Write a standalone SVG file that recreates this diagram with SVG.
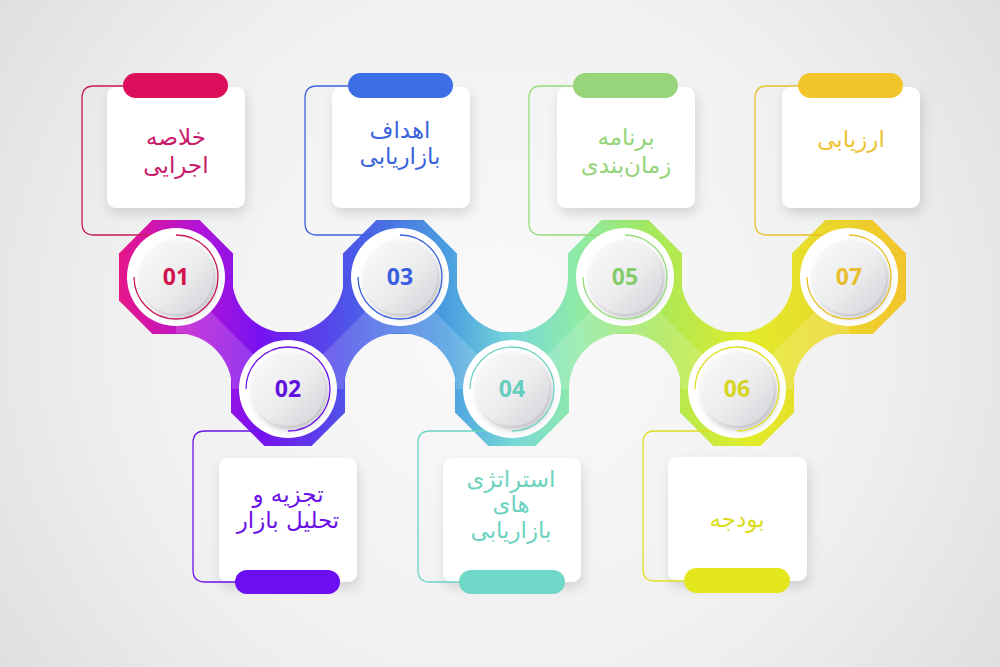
<svg xmlns="http://www.w3.org/2000/svg" width="1000" height="667" viewBox="0 0 1000 667">
<defs>
<radialGradient id="bg" cx="500" cy="330" r="620" gradientUnits="userSpaceOnUse">
<stop offset="0" stop-color="#fafafa"/><stop offset="0.6" stop-color="#f0f0f1"/><stop offset="1" stop-color="#dedee0"/>
</radialGradient>
<linearGradient id="band" x1="119" y1="0" x2="906" y2="0" gradientUnits="userSpaceOnUse">
<stop offset="0" stop-color="#e6168a"/>
<stop offset="0.1" stop-color="#b414d8"/>
<stop offset="0.18" stop-color="#7612f0"/>
<stop offset="0.3" stop-color="#4a5ae8"/>
<stop offset="0.42" stop-color="#4aa0e0"/>
<stop offset="0.5" stop-color="#78d8d8"/>
<stop offset="0.58" stop-color="#8eeaa8"/>
<stop offset="0.68" stop-color="#a6e85a"/>
<stop offset="0.8" stop-color="#e2ec2a"/>
<stop offset="1" stop-color="#f2c42c"/>
</linearGradient>
<linearGradient id="btn" x1="0" y1="0" x2="1" y2="1">
<stop offset="0" stop-color="#fbfbfc"/><stop offset="0.55" stop-color="#ececee"/><stop offset="1" stop-color="#d2d2d8"/>
</linearGradient>
<filter id="sh" x="-30%" y="-30%" width="160%" height="160%">
<feDropShadow dx="2" dy="6" stdDeviation="6" flood-color="#000" flood-opacity="0.13"/>
</filter>
<filter id="bsh" x="-40%" y="-40%" width="180%" height="180%">
<feDropShadow dx="3" dy="4" stdDeviation="3" flood-color="#4a4a5a" flood-opacity="0.35"/>
</filter>
<mask id="cut" maskUnits="userSpaceOnUse" x="0" y="0" width="1000" height="667">
<rect x="0" y="0" width="1000" height="667" fill="#fff"/>
<g fill="#000">
<circle cx="176" cy="389" r="56"/><circle cx="288" cy="277" r="56"/><circle cx="400" cy="389" r="56"/>
<circle cx="512" cy="277" r="56"/><circle cx="625" cy="389" r="56"/><circle cx="737" cy="277" r="56"/>
<circle cx="849" cy="389" r="56"/>
</g>
</mask>
<circle id="ring" r="49" fill="#fff"/>
<circle id="button" r="37" fill="url(#btn)" filter="url(#bsh)"/>
</defs>
<style>
.box{fill:#fff;filter:url(#sh)}
.lbl{font-family:"DejaVu Sans",sans-serif;font-size:23px;text-anchor:middle}
.num{font-family:"Open Sans","Liberation Sans",sans-serif;font-weight:700;font-size:23px;text-anchor:middle}
.con{fill:none;stroke-width:1.3}
.fold{fill:#fff;fill-opacity:0.16}
</style>
<rect width="1000" height="667" fill="url(#bg)"/>

<g id="band-shape" fill="url(#band)">
<rect x="176" y="277" width="673" height="112" mask="url(#cut)"/>
<polygon points="152.4,220 199.6,220 233,253.4 233,300.6 199.6,334 152.4,334 119,300.6 119,253.4"/>
<polygon points="264.4,332 311.6,332 345,365.4 345,412.6 311.6,446 264.4,446 231,412.6 231,365.4"/>
<polygon points="376.4,220 423.6,220 457,253.4 457,300.6 423.6,334 376.4,334 343,300.6 343,253.4"/>
<polygon points="488.4,332 535.6,332 569,365.4 569,412.6 535.6,446 488.4,446 455,412.6 455,365.4"/>
<polygon points="601.4,220 648.6,220 682,253.4 682,300.6 648.6,334 601.4,334 568,300.6 568,253.4"/>
<polygon points="713.4,332 760.6,332 794,365.4 794,412.6 760.6,446 713.4,446 680,412.6 680,365.4"/>
<polygon points="825.4,220 872.6,220 906,253.4 906,300.6 872.6,334 825.4,334 792,300.6 792,253.4"/>
</g>
<g id="band-folds">
<path class="fold" d="M176,277 L288,389 L232,389 A56,56 0 0 0 176,333 Z"/>
<path class="fold" d="M288,389 L400,277 L400,333 A56,56 0 0 0 344,389 Z"/>
<path class="fold" d="M400,277 L512,389 L456,389 A56,56 0 0 0 400,333 Z"/>
<path class="fold" d="M512,389 L625,277 L625,333 A56,56 0 0 0 569,389 Z"/>
<path class="fold" d="M625,277 L737,389 L681,389 A56,56 0 0 0 625,333 Z"/>
<path class="fold" d="M737,389 L849,277 L849,333 A56,56 0 0 0 793,389 Z"/>
</g>

<g id="boxes">
<rect class="box" x="107" y="87" width="138" height="121" rx="9"/>
<rect class="box" x="332" y="87" width="138" height="121" rx="9"/>
<rect class="box" x="557" y="87" width="138" height="121" rx="9"/>
<rect class="box" x="782" y="87" width="138" height="121" rx="9"/>
<rect class="box" x="219" y="458" width="138" height="124" rx="9"/>
<rect class="box" x="443" y="458" width="138" height="124" rx="9"/>
<rect class="box" x="668" y="457" width="139" height="124" rx="9"/>
</g>

<g id="connectors">
<path class="con" stroke="#c8185a" d="M123,86 H94 Q82,86 82,98 V223 Q82,235 94,235 H176 A42,42 0 1 1 134,277"/>
<path class="con" stroke="#6a14e8" d="M235,582 H205 Q193,582 193,570 V443 Q193,431 205,431 H288 A42,42 0 1 0 246,389"/>
<path class="con" stroke="#3a62dc" d="M348,86 H317 Q305,86 305,98 V223 Q305,235 317,235 H400 A42,42 0 1 1 358,277"/>
<path class="con" stroke="#6cd4c2" d="M459,582 H430 Q418,582 418,570 V443 Q418,431 430,431 H512 A42,42 0 1 0 470,389"/>
<path class="con" stroke="#98dc7a" d="M573,86 H541 Q529,86 529,98 V223 Q529,235 541,235 H625 A42,42 0 1 1 583,277"/>
<path class="con" stroke="#dede22" d="M684,581 H655 Q643,581 643,569 V443 Q643,431 655,431 H737 A42,42 0 1 0 695,389"/>
<path class="con" stroke="#e8c02c" d="M798,86 H767 Q755,86 755,98 V223 Q755,235 767,235 H849 A42,42 0 1 1 807,277"/>
</g>

<g id="n01">
<rect x="123" y="73" width="105" height="25" rx="12.5" fill="#dc0f5c"/>
<text class="lbl" fill="#c8186a" x="176" y="145">خلاصه</text>
<text class="lbl" fill="#c8186a" x="176" y="173">اجرایی</text>
<use href="#ring" x="176" y="277"/>
<use href="#button" x="176" y="277"/>
<path class="con" stroke="#c8185a" d="M176,235 A42,42 0 1 1 134,277"/>
<text class="num" fill="#d0124e" x="176" y="285">01</text>
</g>

<g id="n02">
<rect x="235" y="570" width="105" height="24" rx="12" fill="#6c0ff0"/>
<text class="lbl" fill="#6a10e8" x="288" y="502">تجزیه و</text>
<text class="lbl" fill="#6a10e8" x="288" y="528">تحلیل بازار</text>
<use href="#ring" x="288" y="389"/>
<use href="#button" x="288" y="389"/>
<path class="con" stroke="#6a14e8" d="M288,431 A42,42 0 1 0 246,389"/>
<text class="num" fill="#6212e0" x="288" y="397">02</text>
</g>

<g id="n03">
<rect x="348" y="73" width="105" height="25" rx="12.5" fill="#3c6ee6"/>
<text class="lbl" fill="#3a64dc" x="400" y="138">اهداف</text>
<text class="lbl" fill="#3a64dc" x="400" y="164">بازاریابی</text>
<use href="#ring" x="400" y="277"/>
<use href="#button" x="400" y="277"/>
<path class="con" stroke="#3a62dc" d="M400,235 A42,42 0 1 1 358,277"/>
<text class="num" fill="#3a5ee0" x="400" y="285">03</text>
</g>

<g id="n04">
<rect x="459" y="570" width="106" height="24" rx="12" fill="#70d8c8"/>
<text class="lbl" fill="#6cd2c0" x="511" y="487">استراتژی</text>
<text class="lbl" fill="#6cd2c0" x="511" y="512">های</text>
<text class="lbl" fill="#6cd2c0" x="511" y="538">بازاریابی</text>
<use href="#ring" x="512" y="389"/>
<use href="#button" x="512" y="389"/>
<path class="con" stroke="#6cd4c2" d="M512,431 A42,42 0 1 0 470,389"/>
<text class="num" fill="#66cdbc" x="512" y="397">04</text>
</g>

<g id="n05">
<rect x="573" y="73" width="105" height="25" rx="12.5" fill="#98d47a"/>
<text class="lbl" fill="#94d47a" x="626" y="145">برنامه</text>
<text class="lbl" fill="#94d47a" x="626" y="173">زمان‌بندی</text>
<use href="#ring" x="625" y="277"/>
<use href="#button" x="625" y="277"/>
<path class="con" stroke="#98dc7a" d="M625,235 A42,42 0 1 1 583,277"/>
<text class="num" fill="#86cc6c" x="625" y="285">05</text>
</g>

<g id="n06">
<rect x="684" y="568" width="106" height="25" rx="12.5" fill="#e4e61e"/>
<text class="lbl" fill="#dcdc20" x="737" y="527">بودجه</text>
<use href="#ring" x="737" y="389"/>
<use href="#button" x="737" y="389"/>
<path class="con" stroke="#dede22" d="M737,431 A42,42 0 1 0 695,389"/>
<text class="num" fill="#d6d41e" x="737" y="397">06</text>
</g>

<g id="n07">
<rect x="798" y="73" width="105" height="25" rx="12.5" fill="#f2c62a"/>
<text class="lbl" fill="#eec230" x="851" y="147">ارزیابی</text>
<use href="#ring" x="849" y="277"/>
<use href="#button" x="849" y="277"/>
<path class="con" stroke="#e8c02c" d="M849,235 A42,42 0 1 1 807,277"/>
<text class="num" fill="#e6be2e" x="849" y="285">07</text>
</g>
</svg>
